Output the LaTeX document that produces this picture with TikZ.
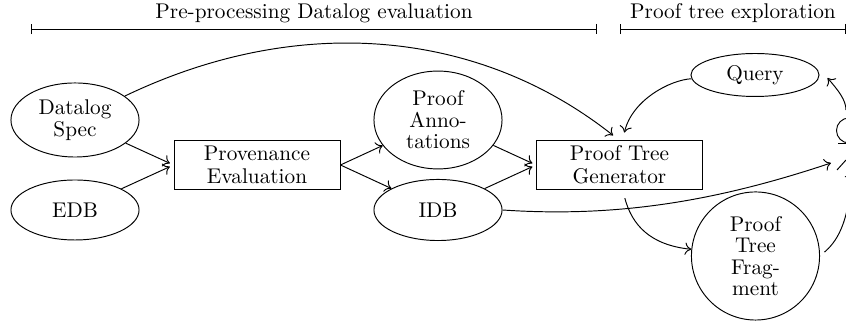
\documentclass[tikz,border=0pt]{standalone}
\usetikzlibrary{shapes.geometric,arrows.meta}
\begin{document}
\begin{tikzpicture}[x=0.47pt,y=-0.47pt,line width=0.45pt,>={To[length=3pt,width=5.8pt]},
	data/.style={draw,ellipse,minimum width=60.2pt,align=center,inner sep=0pt,font=\fontsize{10}{10.1}\selectfont},
	proc/.style={draw,rectangle,minimum width=78pt,minimum height=22.6pt,align=center,inner sep=0pt,font=\fontsize{10}{10.6}\selectfont},
	toproc/.style={->,shorten >=1.9pt}]
	\clip (0,0) rectangle (846,322);
	\coordinate (L1) at (31,29);
	\coordinate (L2) at (597,29);
	\coordinate (R1) at (620,29);
	\coordinate (R2) at (846,29);
	\coordinate (A) at (851,171);
	\coordinate (H) at (846,110);
	\draw [|-|] (L1) -- (L2);
	\draw [|-|] (R1) -- (R2);
	\path (314,13) node [] (prep) {Pre-processing Datalog evaluation};
	\path (733,13) node [] (expl) {Proof tree exploration};
	\path (75,120) node [data,minimum height=34.8pt] (spec) {Datalog\\Spec};
	\path (75,210) node [data,minimum height=28.2pt] (edb) {EDB};
	\path (257,165) node [proc] (prov) {Provenance\\Evaluation};
	\path (438,120) node [data,minimum height=46pt] (anno) {Proof\\Anno-\\tations};
	\path (438,210) node [data,minimum height=28.7pt] (idb) {IDB};
	\path (619.5,165) node [proc] (gen) {Proof Tree\\Generator};
	\path (755,75) node [data,minimum height=20.2pt] (query) {Query};
	\path (755.5,256) node [data,minimum height=60.2pt] (frag) {Proof\\Tree\\Frag-\\ment};
	\draw (849,130.5) circle (12.5);
	\draw (838,143) -- (862,143);
	\draw (846,143) -- (846,160);
	\draw (846,160) -- (837,170);
	\draw [toproc] (spec) -- (prov.west);
	\draw [toproc] (edb) -- (prov.west);
	\draw [->] (prov.east) -- (anno);
	\draw [->] (prov.east) -- (idb);
	\draw [toproc] (anno) -- (gen.west);
	\draw [toproc] (idb) -- (gen.west);
	\draw [->,shorten >=3.8pt] (spec) .. controls (300,12) and (480,30) .. (gen.north);
	\draw [->,shorten >=3.8pt] (query) .. controls (670,80) and (632,100) .. (gen.83);
	\draw [->,shorten <=4.2pt] (gen.-83) .. controls (632,225) and (650,245) .. (frag);
	\draw [->] (idb.east) .. controls (620,218) and (720,200) .. (831,163);
	\draw [->,shorten <=2.8pt] (frag.east) .. controls (835,243) and (850,225) .. (A);
	\draw [->] (H) .. controls (846,100) and (838,90) .. ([shift={(8,3)}]query.east);
\end{tikzpicture}
\end{document}
